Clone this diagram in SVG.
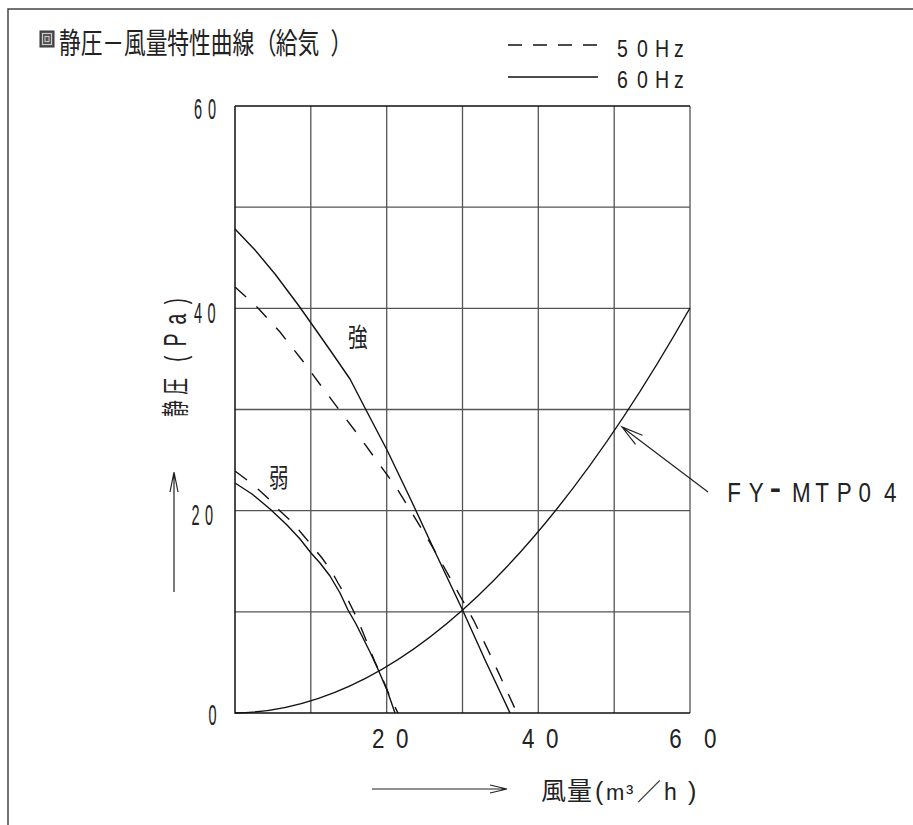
<svg xmlns="http://www.w3.org/2000/svg" width="913" height="825" viewBox="0 0 913 825">
<style>
  .frame{stroke:#444;stroke-width:1.5;fill:none}
  .grid{stroke:#555;stroke-width:1.3;fill:none}
  .axis{stroke:#111;stroke-width:1.5;fill:none}
  .curve{stroke:#111;stroke-width:1.4;fill:none;stroke-linejoin:round;stroke-linecap:butt}
  .dash{stroke-dasharray:15 14}
  .arr{stroke:#222;stroke-width:1.2;fill:none}
  .lat{font-family:"Liberation Sans",Arial,sans-serif;fill:#222}
  .cjk{font-family:"Noto Sans CJK JP","Noto Sans CJK SC",sans-serif;fill:#222;text-spacing-trim:space-all;font-feature-settings:"chws" 0,"halt" 0}
</style>
<rect x="0" y="0" width="913" height="825" fill="#fff"/>
<g id="border">
  <path class="frame" d="M8,825 V9 H913"/>
</g>
<g id="title">
  <rect x="40" y="31" width="14" height="16" fill="#555" stroke="#333" stroke-width="1"/>
  <rect x="42.5" y="33.5" width="9" height="11" fill="none" stroke="#ccc" stroke-width="1"/>
  <rect x="45" y="36.5" width="4" height="5" fill="none" stroke="#ccc" stroke-width="1"/>
  <text class="cjk" font-size="29" transform="translate(59,54) scale(0.75,1)"><tspan x="0">静</tspan><tspan x="28.9">圧</tspan><tspan x="57.8">－</tspan><tspan x="86.7">風</tspan><tspan x="115.6">量</tspan><tspan x="144.5">特</tspan><tspan x="173.4">性</tspan><tspan x="202.3">曲</tspan><tspan x="231.2">線</tspan><tspan x="261">（</tspan><tspan x="289">給</tspan><tspan x="317.9">気</tspan><tspan x="362">）</tspan></text>
</g>
<g id="legend">
  <line class="curve" x1="508" y1="45" x2="598" y2="45" stroke-dasharray="14 11"/>
  <line class="curve" x1="508" y1="77" x2="598" y2="77"/>
  <text class="lat" font-size="23" transform="translate(0,57) scale(0.85,1)"><tspan x="725.9">5</tspan><tspan x="749.4">0</tspan><tspan x="770.6">H</tspan><tspan x="792.9">z</tspan></text>
  <text class="lat" font-size="23" transform="translate(0,88) scale(0.85,1)"><tspan x="725.9">6</tspan><tspan x="749.4">0</tspan><tspan x="770.6">H</tspan><tspan x="792.9">z</tspan></text>
</g>
<g id="grid">
  <path class="grid" d="M310.8,106 V713 M386.7,106 V713 M462.5,106 V713 M538.3,106 V713 M614.2,106 V713 M690,106 V713 M235,611.8 H690 M235,510.7 H690 M235,409.5 H690 M235,308.3 H690 M235,207.2 H690"/>
  <path class="axis" d="M235,106 H690 M235,106 V713 H690"/>
</g>
<g id="y-ticks">
  <text class="lat" font-size="29" letter-spacing="12" transform="translate(194,119) scale(0.5,1)">60</text>
  <text class="lat" font-size="29" letter-spacing="11" transform="translate(194,323) scale(0.5,1)">40</text>
  <text class="lat" font-size="29" letter-spacing="11" transform="translate(191.5,525) scale(0.5,1)">20</text>
  <text class="lat" font-size="29" transform="translate(208.5,725) scale(0.5,1)">0</text>
</g>
<g id="x-ticks">
  <text class="lat" font-size="28" transform="translate(0,748) scale(0.8,1)"><tspan x="465">2</tspan><tspan x="495">0</tspan><tspan x="652.5">4</tspan><tspan x="682.5">0</tspan><tspan x="836.5">6</tspan><tspan x="880">0</tspan></text>
</g>
<g id="y-axis-label">
  <text transform="translate(186,417) rotate(-90) scale(0.6,1)"><tspan class="cjk" font-size="28" x="0">静</tspan><tspan class="cjk" font-size="28" x="37">圧</tspan><tspan class="lat" font-size="30" x="92">(</tspan><tspan class="lat" font-size="32" x="118">P</tspan><tspan class="lat" font-size="32" x="154">a</tspan><tspan class="lat" font-size="30" x="188">)</tspan></text>
  <path class="arr" d="M174,592 V472 M170,492 L174,472 L178,492"/>
</g>
<g id="x-axis-label">
  <text y="800"><tspan class="cjk" font-size="25" x="541">風</tspan><tspan class="cjk" font-size="25" x="567">量</tspan><tspan class="lat" font-size="25" x="595">(</tspan><tspan class="lat" font-size="22" x="606">m</tspan><tspan class="lat" font-size="22" x="626">³</tspan><tspan class="cjk" font-size="24" x="637">／</tspan><tspan class="lat" font-size="23" x="664">h</tspan><tspan class="lat" font-size="25" x="688">)</tspan></text>
  <path class="arr" d="M372,789 H507 M490,785 L507,789 L490,793"/>
</g>
<g id="connectors">
  <path id="strong-60" class="curve" d="M235,229 L255,250 L275,274 L299,306 L311,323 L330,350 L350,379 L365,408 L387,450 L411,500 L437,556 L463,611 L486,662 L510,713"/>
  <path id="strong-50" class="curve dash" d="M235,287 L257,307 L280,332 L302,360 L322,387 L340,411 L359,436 L377,461 L396,487 L412,513 L429,541 L444,567 L459,594 L474,621 L488,650 L501,678 L517,713"/>
  <path id="weak-60" class="curve" d="M235,483 L252,494 L270,509 L287,525 L300,539 L311,553 L320,563 L330,576 L340,593 L348,610 L356,624 L363,638 L370,652 L377,667 L387,690 L395,713"/>
  <path id="weak-50" class="curve dash" d="M235,471 L247,480 L259,490 L272,502 L280,511 L293,523 L303,535 L313,547 L322,558 L332,572 L338,583 L347,598 L353,610 L360,625 L368,645 L375,662 L383,680 L390,697 L398,713"/>
  <path id="system" class="curve" d="M235,713 Q462.5,709.6 690,308"/>
  <path id="pointer" class="arr" d="M708,492 L622,427 M642.4,435.3 L622,427 L635.5,444.4"/>
</g>
<g id="labels">
  <text class="cjk" font-size="26" transform="translate(348,347) scale(0.75,1)">強</text>
  <text class="cjk" font-size="26" transform="translate(269,487) scale(0.75,1)">弱</text>
  <text class="lat" font-size="28" transform="translate(0,502) scale(0.8,1)"><tspan x="909">F</tspan><tspan x="936">Y</tspan><tspan x="962" font-size="44">-</tspan><tspan x="990">M</tspan><tspan x="1019">T</tspan><tspan x="1046">P</tspan><tspan x="1073">0</tspan><tspan x="1105">4</tspan></text>
</g>
</svg>
